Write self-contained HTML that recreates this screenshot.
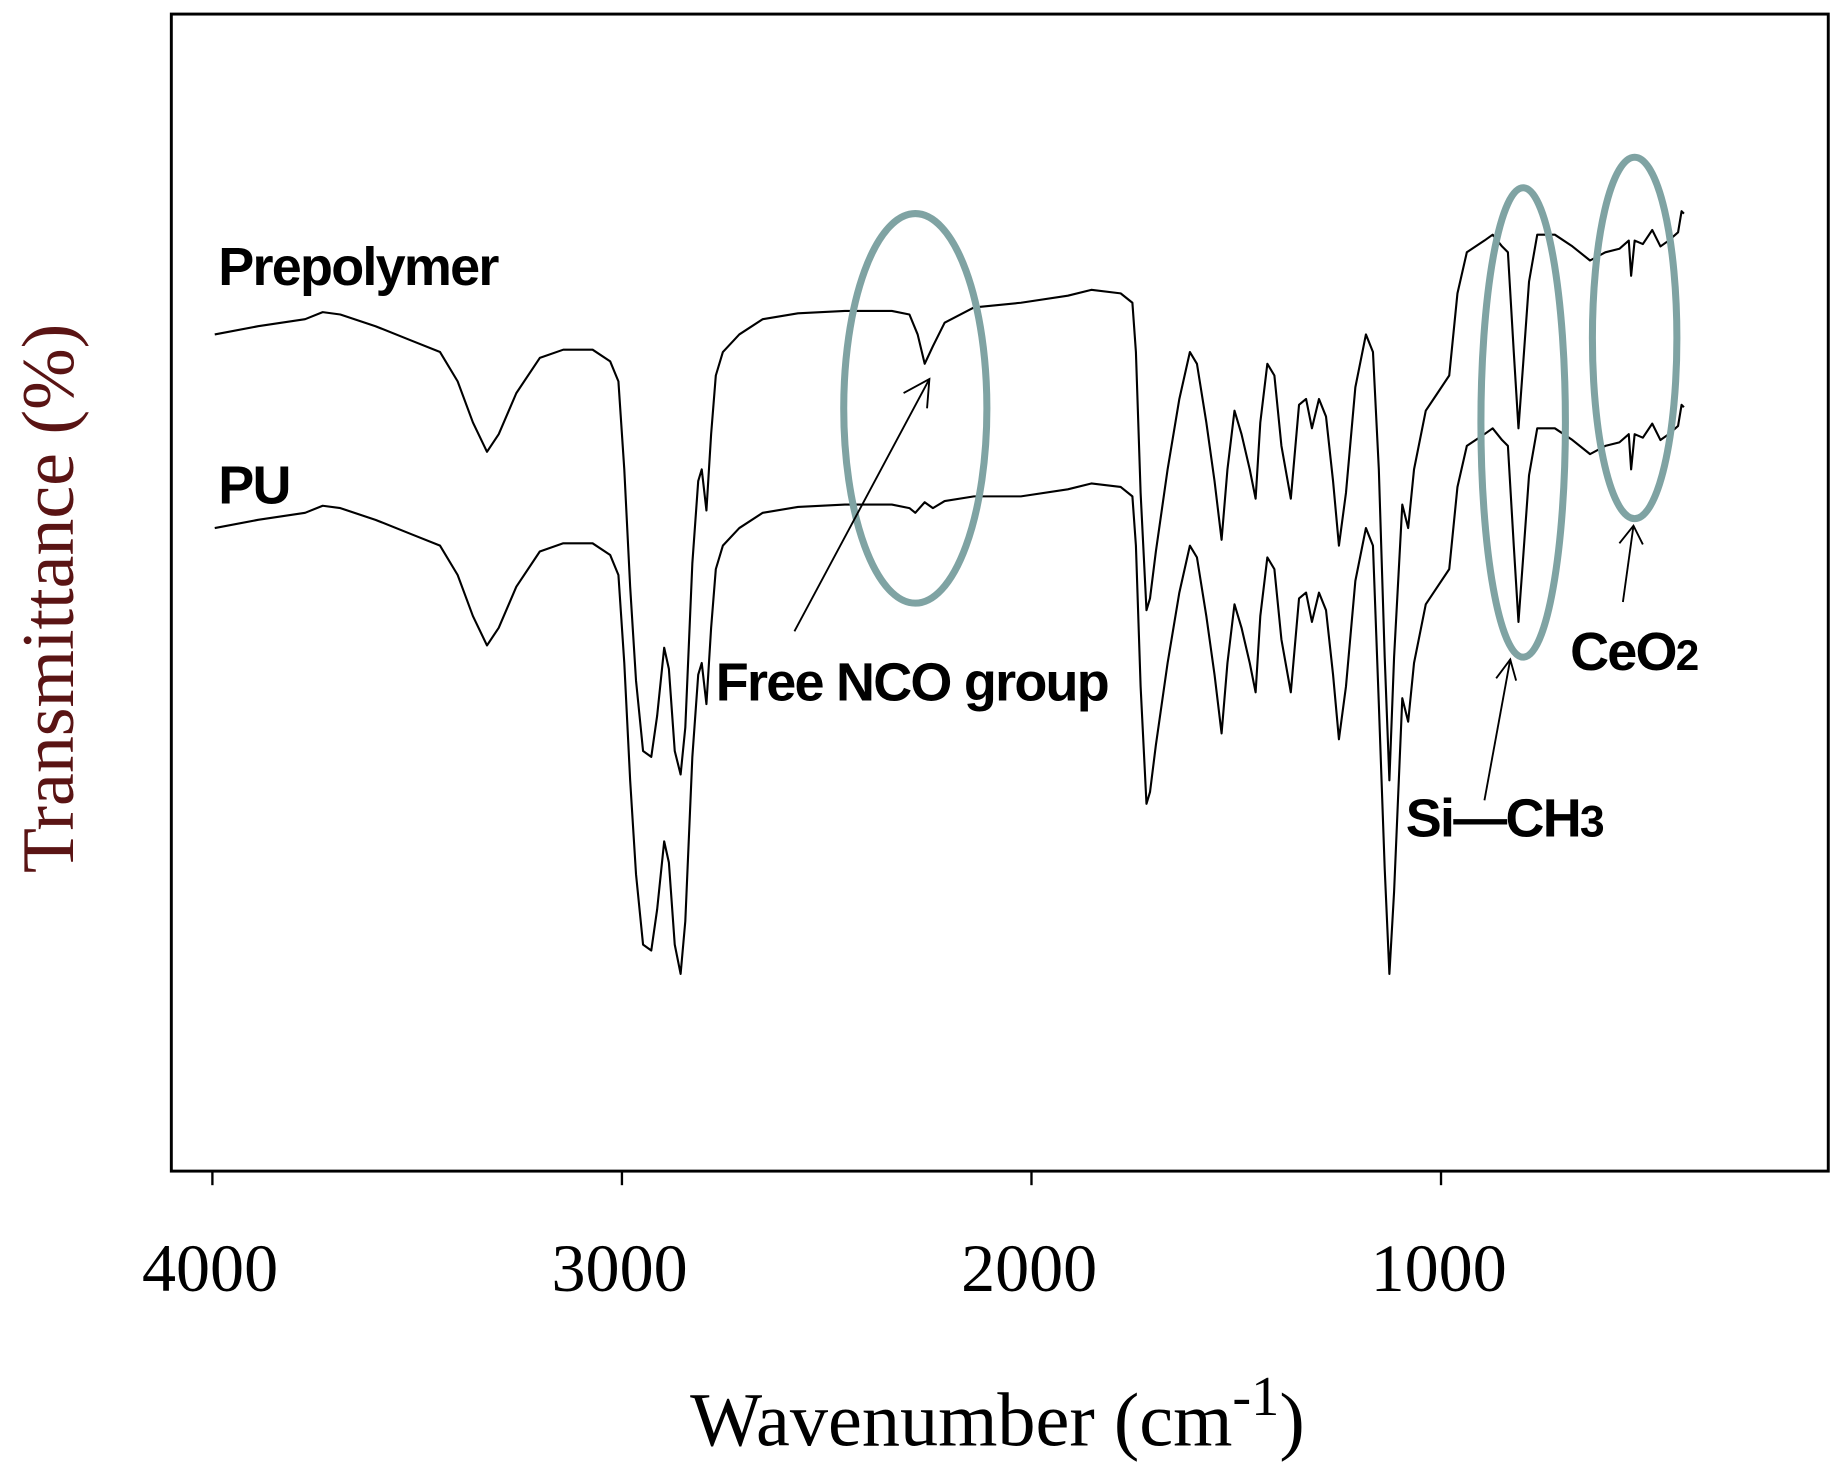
<!DOCTYPE html>
<html><head><style>html,body{margin:0;padding:0;background:#fff}svg{display:block}</style></head><body>
<svg width="1840" height="1464" viewBox="0 0 1568 1247.6" preserveAspectRatio="none" xmlns="http://www.w3.org/2000/svg">
<rect x="146" y="12" width="1412" height="986" fill="none" stroke="#000" stroke-width="2.5"/>
<g stroke="#000" stroke-width="2"><line x1="181" y1="998" x2="181" y2="1010"/><line x1="530" y1="998" x2="530" y2="1010"/><line x1="879" y1="998" x2="879" y2="1010"/><line x1="1228" y1="998" x2="1228" y2="1010"/></g>
<g font-family="Liberation Serif, serif" font-size="58" text-anchor="middle" fill="#000">
<text x="179" y="1100">4000</text><text x="528" y="1100">3000</text><text x="877" y="1100">2000</text><text x="1226" y="1100">1000</text>
</g>
<text x="850" y="1232" font-family="Liberation Serif, serif" font-size="65" text-anchor="middle" fill="#000">Wavenumber (cm<tspan dy="-26" font-size="48">-1</tspan><tspan dy="26">)</tspan></text>
<text transform="translate(62,510) rotate(-90)" font-family="Liberation Serif, serif" font-size="63" text-anchor="middle" fill="#5a1414">Transmittance (%)</text>
<g fill="none" stroke="#000" stroke-width="1.8" stroke-linejoin="round">
<polyline points="183,285 220,278 260,272 275,266 290,268 320,278 350,290 375,300 390,325 403,360 415,385 425,370 440,335 460,305 480,298 505,298 520,308 527,325 532,400 537,500 542,580 548,640 555,645 560,610 566,552 570,570 575,640 580,660 584,620 590,480 595,410 598,400 602,435 606,370 610,320 616,300 630,285 650,272 680,267 720,265 760,265 775,268 782,285 788,310 795,295 805,275 830,262 870,258 910,252 930,247 955,250 965,258 968,300 972,420 977,520 980,510 985,470 995,400 1005,340 1014,300 1020,310 1028,360 1035,410 1041,460 1046,400 1052,350 1058,370 1065,400 1070,425 1074,360 1080,310 1086,320 1092,380 1100,425 1107,345 1113,340 1118,365 1124,340 1130,355 1136,410 1141,465 1147,420 1155,330 1164,285 1170,300 1175,400 1180,560 1184,665 1188,560 1195,430 1200,450 1205,400 1215,350 1225,335 1235,320 1242,250 1250,215 1265,205 1272,200 1280,210 1285,215 1290,300 1294,365 1298,310 1303,240 1310,200 1325,200 1340,210 1355,222 1368,215 1380,212 1388,205 1390,235 1393,205 1400,208 1408,196 1415,210 1422,205 1430,198 1433,180 1435,182"/>
<polyline points="183,450 220,443 260,437 275,431 290,433 320,443 350,455 375,465 390,490 403,525 415,550 425,535 440,500 460,470 480,463 505,463 520,473 527,490 532,565 537,665 542,745 548,805 555,810 560,775 566,717 570,735 575,805 580,830 584,785 590,645 595,575 598,565 602,600 606,535 610,485 616,465 630,450 650,437 680,432 720,430 760,430 775,433 780,437 788,428 795,433 805,427 830,423 870,423 910,417 930,412 955,415 965,423 968,465 972,585 977,685 980,675 985,635 995,565 1005,505 1014,465 1020,475 1028,525 1035,575 1041,625 1046,565 1052,515 1058,535 1065,565 1070,590 1074,525 1080,475 1086,485 1092,545 1100,590 1107,510 1113,505 1118,530 1124,505 1130,520 1136,575 1141,630 1147,585 1155,495 1164,450 1170,465 1175,600 1180,740 1184,830 1188,760 1195,595 1200,615 1205,565 1215,515 1225,500 1235,485 1242,415 1250,380 1265,370 1272,365 1280,375 1285,380 1290,465 1294,530 1298,475 1303,405 1310,365 1325,365 1340,375 1355,387 1368,380 1380,377 1388,370 1390,400 1393,370 1400,373 1408,361 1415,375 1422,370 1430,363 1433,345 1435,347"/>
</g>
<g fill="none" stroke="#7fa3a3" stroke-width="6">
<ellipse cx="780" cy="348" rx="61" ry="166"/>
<ellipse cx="1298" cy="360" rx="36" ry="200"/>
<ellipse cx="1393" cy="288" rx="36" ry="154"/>
</g>
<g fill="none" stroke="#000" stroke-width="1.6">
<line x1="677" y1="538" x2="792" y2="323"/><polyline points="770,335 792,323 790,348"/>
<line x1="1265" y1="682" x2="1287" y2="562"/><polyline points="1275,578 1287,562 1292,580"/>
<line x1="1383" y1="513" x2="1392" y2="448"/><polyline points="1380,463 1392,448 1400,464"/>
</g>
<g font-family="Liberation Sans, sans-serif" font-weight="bold" font-size="46" fill="#000" letter-spacing="-1.5">
<text x="186" y="243">Prepolymer</text>
<text x="186" y="429">PU</text>
<text x="610" y="597">Free NCO group</text>
<text x="1198" y="713">Si—CH<tspan font-size="38">3</tspan></text>
<text x="1338" y="571">CeO<tspan font-size="36">2</tspan></text>
</g>
</svg>
</body></html>
